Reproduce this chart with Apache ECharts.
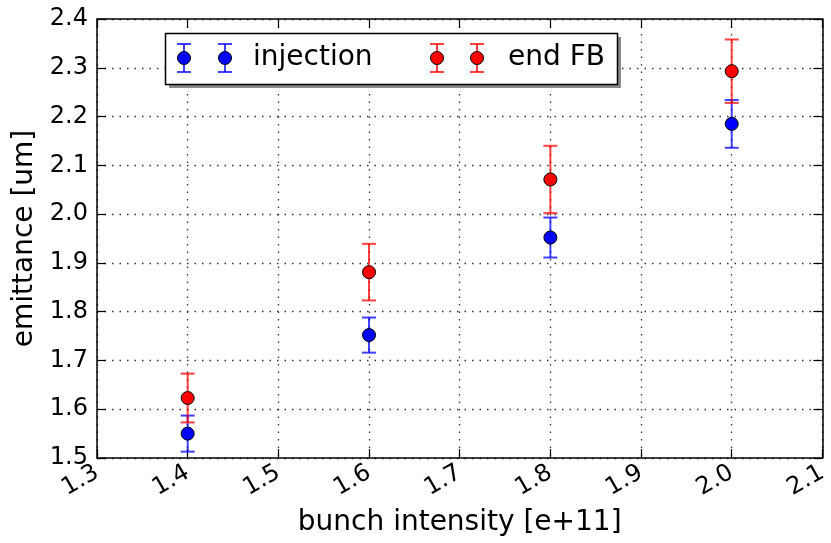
<!DOCTYPE html>
<html>
<head>
<meta charset="utf-8">
<script src="https://cdn.jsdelivr.net/npm/echarts@6/dist/echarts.min.js"></script>
<style>
html,body{margin:0;padding:0;background:#fff;}
#chart{width:831px;height:543px;}
</style>
</head>
<body>
<div id="chart"></div>
<script>
// ---- data ----
var xValues = [1.4, 1.6, 1.8, 2.0];
var injMean = [1.550, 1.752, 1.952, 2.185];
var injErr  = [0.037, 0.036, 0.041, 0.049];
var fbMean  = [1.623, 1.881, 2.071, 2.293];
var fbErr   = [0.050, 0.058, 0.069, 0.065];
var seriesNames = ['injection', 'end FB'];
var xTicks = {min: 1.3, max: 2.1, step: 0.1};
var yTicks = {min: 1.5, max: 2.4, step: 0.1};

var FONT = 'DejaVu Sans';
var BLUE = '#0000ff', RED = '#ff0000';

function pts(mean) { return xValues.map(function (x, i) { return [x, mean[i]]; }); }
function errs(mean, err) { return xValues.map(function (x, i) { return [x, mean[i] - err[i], mean[i] + err[i]]; }); }

function errRender(color) {
  return function (params, api) {
    var x = api.value(0);
    var lo = api.coord([x, api.value(1)]);
    var hi = api.coord([x, api.value(2)]);
    var cap = 7;
    var st = {stroke: color, lineWidth: 2, opacity: 0.75};
    return {
      type: 'group',
      children: [
        {type: 'line', shape: {x1: lo[0], y1: lo[1], x2: hi[0], y2: hi[1]}, style: st},
        {type: 'line', shape: {x1: lo[0] - cap, y1: lo[1], x2: lo[0] + cap, y2: lo[1]}, style: st},
        {type: 'line', shape: {x1: hi[0] - cap, y1: hi[1], x2: hi[0] + cap, y2: hi[1]}, style: st}
      ]
    };
  };
}

var dotted = {show: true, lineStyle: {color: '#333', width: 1.3, type: [1.5, 6]}};
var axisLineS = {show: true, onZero: false, lineStyle: {color: '#000', width: 1.5}};
var tickS = {show: true, inside: true, length: 9, lineStyle: {color: '#000', width: 1.2}};

function legendIcon(cx, cy, color) {
  var st = {stroke: color, lineWidth: 2, opacity: 0.75};
  return [
    {type: 'line', shape: {x1: cx, y1: cy - 14, x2: cx, y2: cy + 14}, style: st, z: 101},
    {type: 'line', shape: {x1: cx - 7, y1: cy - 14, x2: cx + 7, y2: cy - 14}, style: st, z: 101},
    {type: 'line', shape: {x1: cx - 7, y1: cy + 14, x2: cx + 7, y2: cy + 14}, style: st, z: 101},
    {type: 'circle', shape: {cx: cx, cy: cy, r: 6.5}, style: {fill: color, stroke: '#000', lineWidth: 1}, z: 102}
  ];
}

var legendEls = [
  {type: 'rect', shape: {x: 169, y: 37, width: 452, height: 51}, style: {fill: '#8a8a8a'}, z: 99},
  {type: 'rect', shape: {x: 165.5, y: 33.5, width: 452, height: 51}, style: {fill: '#fff', stroke: '#000', lineWidth: 1.5}, z: 100},
  {type: 'text', style: {x: 253, y: 58, text: seriesNames[0], font: '28px "DejaVu Sans"', fill: '#000', textVerticalAlign: 'middle'}, z: 101},
  {type: 'text', style: {x: 508, y: 58, text: seriesNames[1], font: '28px "DejaVu Sans"', fill: '#000', textVerticalAlign: 'middle'}, z: 101}
].concat(legendIcon(184, 58, BLUE), legendIcon(225, 58, BLUE), legendIcon(437, 58, RED), legendIcon(477, 58, RED));

var chart = echarts.init(document.getElementById('chart'));
chart.setOption({
  animation: false,
  backgroundColor: '#fff',
  textStyle: {fontFamily: FONT},
  grid: {left: 97, right: 2, top: 19, bottom: 85},
  xAxis: [{
    type: 'value', position: 'bottom', min: xTicks.min, max: xTicks.max, interval: xTicks.step,
    name: 'bunch intensity [e+11]', nameLocation: 'middle', nameGap: 51,
    nameTextStyle: {fontFamily: FONT, fontSize: 28, color: '#000'},
    axisLine: axisLineS, axisTick: tickS, splitLine: dotted,
    axisLabel: {rotate: 30, margin: 13, fontFamily: FONT, fontSize: 24, color: '#000',
      formatter: function (v) { return v.toFixed(1); }}
  }, {
    type: 'value', position: 'top', min: xTicks.min, max: xTicks.max, interval: xTicks.step,
    axisLine: axisLineS, axisTick: tickS, splitLine: {show: false}, axisLabel: {show: false}
  }],
  yAxis: [{
    type: 'value', position: 'left', min: yTicks.min, max: yTicks.max, interval: yTicks.step,
    name: 'emittance [um]', nameLocation: 'middle', nameGap: 58,
    nameTextStyle: {fontFamily: FONT, fontSize: 28, color: '#000'},
    axisLine: axisLineS, axisTick: tickS, splitLine: dotted,
    axisLabel: {margin: 9, fontFamily: FONT, fontSize: 24, color: '#000',
      formatter: function (v) { return v.toFixed(1); }}
  }, {
    type: 'value', position: 'right', min: yTicks.min, max: yTicks.max, interval: yTicks.step,
    axisLine: axisLineS, axisTick: tickS, splitLine: {show: false}, axisLabel: {show: false}
  }],
  series: [
    {type: 'custom', name: seriesNames[0] + ' err', renderItem: errRender(BLUE), data: errs(injMean, injErr), z: 3,
      encode: {x: 0, y: [1, 2]}},
    {type: 'scatter', name: seriesNames[0], data: pts(injMean), symbolSize: 13, z: 4,
      itemStyle: {color: BLUE, borderColor: '#000', borderWidth: 1, opacity: 1}},
    {type: 'custom', name: seriesNames[1] + ' err', renderItem: errRender(RED), data: errs(fbMean, fbErr), z: 5,
      encode: {x: 0, y: [1, 2]}},
    {type: 'scatter', name: seriesNames[1], data: pts(fbMean), symbolSize: 13, z: 6,
      itemStyle: {color: RED, borderColor: '#000', borderWidth: 1, opacity: 1}}
  ],
  graphic: legendEls
});
</script>
</body>
</html>
